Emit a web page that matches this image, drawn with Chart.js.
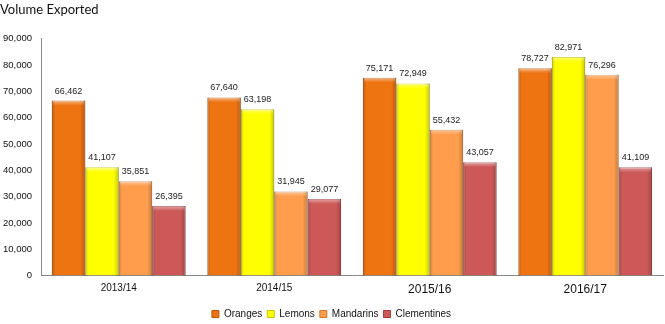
<!DOCTYPE html>
<html>
<head>
<meta charset="utf-8">
<script src="https://cdn.jsdelivr.net/npm/chart.js@4/dist/chart.umd.min.js"></script>
<style>
  html, body { margin: 0; padding: 0; background: #fff; }
  #wrap { width: 665px; height: 324px; position: relative; }
</style>
</head>
<body>
<div id="wrap"><canvas id="c"></canvas></div>
<script>
// Export volumes by season and fruit
const seasons = ['2013/14', '2014/15', '2015/16', '2016/17'];
const oranges = [66462, 67640, 75171, 78727];
const lemons = [41107, 63198, 72949, 82971];
const mandarins = [35851, 31945, 55432, 76296];
const clementines = [26395, 29077, 43057, 41109];
const seriesNames = ['Oranges', 'Lemons', 'Mandarins', 'Clementines'];
const seriesColors = ['#EE7311', '#FFFF00', '#FF9D4C', '#CC5858'];
const seriesEdges = ['#B5570B', '#C9C300', '#CC7A35', '#9E3E3E'];

const fmt = v => v.toLocaleString('en-US');
const labelFont = '"Liberation Sans", Arial, sans-serif';

// Bevel shading on each bar, drawn from the bar's own element geometry
const bevel = {
  id: 'bevel',
  afterDatasetsDraw(chart) {
    const ctx = chart.ctx;
    chart.data.datasets.forEach((ds, i) => {
      const meta = chart.getDatasetMeta(i);
      meta.data.forEach(bar => {
        const { x, y, base, width } = bar.getProps(['x', 'y', 'base', 'width'], true);
        const l = x - width / 2, r = x + width / 2;
        ctx.save();
        const g = ctx.createLinearGradient(l, 0, r, 0);
        g.addColorStop(0, 'rgba(0,0,0,0.18)');
        g.addColorStop(0.1, 'rgba(0,0,0,0)');
        g.addColorStop(0.85, 'rgba(0,0,0,0)');
        g.addColorStop(1, 'rgba(0,0,0,0.22)');
        ctx.fillStyle = g;
        ctx.fillRect(l, y, width, base - y);
        const t = ctx.createLinearGradient(0, y, 0, y + 5);
        t.addColorStop(0, 'rgba(255,255,255,0.45)');
        t.addColorStop(1, 'rgba(255,255,255,0)');
        ctx.fillStyle = t;
        ctx.fillRect(l + 1, y, width - 2, 5);
        ctx.restore();
      });
    });
  }
};

// Value labels above each bar
const valueLabels = {
  id: 'valueLabels',
  afterDatasetsDraw(chart) {
    const ctx = chart.ctx;
    ctx.save();
    ctx.font = '9px ' + labelFont;
    ctx.fillStyle = '#222';
    ctx.textAlign = 'center';
    ctx.textBaseline = 'bottom';
    chart.data.datasets.forEach((ds, i) => {
      const meta = chart.getDatasetMeta(i);
      meta.data.forEach((bar, j) => {
        ctx.fillText(fmt(ds.data[j]), bar.x, bar.y - 5);
      });
    });
    ctx.restore();
  }
};

const datasetValues = [oranges, lemons, mandarins, clementines];

new Chart(document.getElementById('c'), {
  type: 'bar',
  data: {
    labels: seasons,
    datasets: datasetValues.map((vals, i) => ({
      label: seriesNames[i],
      data: vals,
      backgroundColor: seriesColors[i],
      borderColor: seriesEdges[i],
      borderWidth: 1,
      categoryPercentage: 0.86,
      barPercentage: 1.0
    }))
  },
  options: {
    responsive: true,
    maintainAspectRatio: false,
    animation: false,
    layout: { padding: { left: 0, right: 2, top: 0, bottom: -5 } },
    plugins: {
      title: {
        display: true,
        text: 'Volume Exported',
        align: 'start',
        color: '#111',
        font: { family: 'Lato', size: 13, weight: 'normal' },
        padding: { top: 2, bottom: 21 }
      },
      legend: {
        position: 'bottom',
        labels: {
          boxWidth: 7,
          boxHeight: 7,
          padding: 5,
          color: '#111',
          font: { family: labelFont, size: 10 }
        }
      },
      tooltip: { enabled: false }
    },
    scales: {
      x: {
        grid: { display: false, drawTicks: false },
        border: { display: true, color: '#888' },
        ticks: {
          color: '#111',
          padding: 7,
          font: ctx => ({ family: labelFont, size: ctx.index < 2 ? 10 : 12 })
        }
      },
      y: {
        min: 0,
        max: 90000,
        grid: { display: false, drawTicks: false },
        border: { display: true, color: '#888' },
        afterFit: s => { s.width = 41; },
        ticks: {
          stepSize: 10000,
          color: '#111',
          padding: 9,
          font: { family: labelFont, size: 9.5 },
          callback: v => fmt(v)
        }
      }
    }
  },
  plugins: [bevel, valueLabels]
});
</script>
</body>
</html>
